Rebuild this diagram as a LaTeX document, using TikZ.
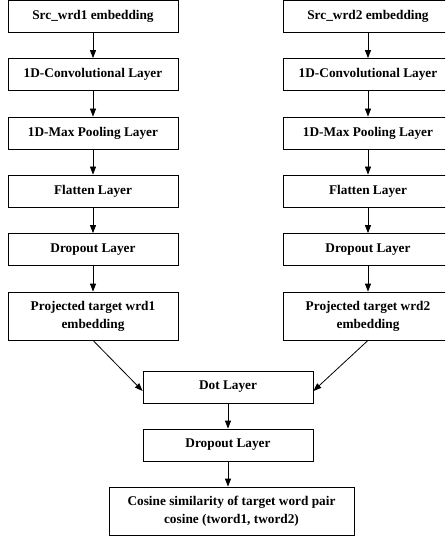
\documentclass[tikz,border=0pt]{standalone}
\usepackage{fontspec}
\setmainfont{Liberation Serif}
\usetikzlibrary{arrows.meta}
\tikzset{
	layer/.style={draw=black, line width=0.8pt, minimum width=170pt, minimum height=32pt, inner sep=0pt, align=center, font=\fontsize{13.3}{18}\selectfont\bfseries},
	flow/.style={-{Triangle[length=8pt,width=6pt]}, line width=0.8pt}
}
\begin{document}
\begin{tikzpicture}[x=1pt,y=-1pt]
		\clip (0,0) rectangle (445,540);
		\node[layer] (srcA) at (93,16.5) {Src\_wrd1 embedding};
		\node[layer] (convA) at (93,74.5) {1D-Convolutional Layer};
		\node[layer] (poolA) at (93,133) {1D-Max Pooling Layer};
		\node[layer] (flatA) at (93,191) {Flatten Layer};
		\node[layer] (dropA) at (93,249.5) {Dropout Layer};
		\node[layer, minimum height=48pt] (projA) at (93,316) {Projected target wrd1\\embedding};
		\node[layer] (srcB) at (368,16.5) {Src\_wrd2 embedding};
		\node[layer] (convB) at (368,74.5) {1D-Convolutional Layer};
		\node[layer] (poolB) at (368,133) {1D-Max Pooling Layer};
		\node[layer] (flatB) at (368,191) {Flatten Layer};
		\node[layer] (dropB) at (368,249.5) {Dropout Layer};
		\node[layer, minimum height=48pt] (projB) at (368,316) {Projected target wrd2\\embedding};
		\node[layer] (dot) at (228,387) {Dot Layer};
		\node[layer] (drop) at (228,445) {Dropout Layer};
		\node[layer, minimum width=245pt, minimum height=48pt] (cosine) at (231.5,511) {Cosine similarity of target word pair\\cosine (tword1, tword2)};
		\draw[flow] (srcA) -- (convA);
		\draw[flow] (convA) -- (poolA);
		\draw[flow] (poolA) -- (flatA);
		\draw[flow] (flatA) -- (dropA);
		\draw[flow] (dropA) -- (projA);
		\draw[flow] (srcB) -- (convB);
		\draw[flow] (convB) -- (poolB);
		\draw[flow] (poolB) -- (flatB);
		\draw[flow] (flatB) -- (dropB);
		\draw[flow] (dropB) -- (projB);
		\draw[flow] (projA.south) -- ([yshift=-4pt]dot.west);
		\draw[flow] (projB.south) -- ([yshift=-4pt]dot.east);
		\draw[flow] (dot) -- (drop);
		\draw[flow] (drop.south) -- (drop.south |- cosine.north);
	\end{tikzpicture}
\end{document}
